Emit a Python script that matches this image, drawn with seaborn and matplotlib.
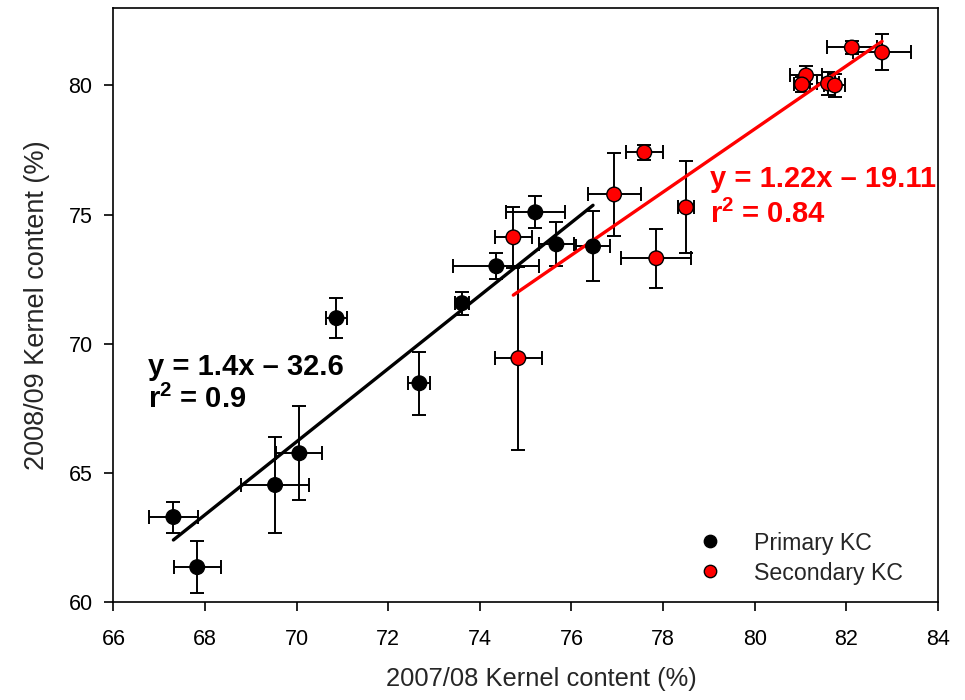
import numpy as np
import pandas as pd
import matplotlib
matplotlib.use("Agg")
import matplotlib.pyplot as plt
import seaborn as sns

# Primary KC
prim_x = [67.31, 67.83, 69.53, 70.06, 70.87, 72.68, 73.61, 74.36, 75.21, 75.67, 76.47]
prim_y = [63.29, 61.35, 64.53, 65.76, 70.99, 68.47, 71.57, 73.00, 75.09, 73.85, 73.77]
prim_xerr = [0.53, 0.51, 0.74, 0.50, 0.23, 0.24, 0.16, 0.94, 0.65, 0.39, 0.37]
prim_yerr = [0.60, 1.00, 1.84, 1.82, 0.78, 1.22, 0.44, 0.50, 0.62, 0.85, 1.35]

# Secondary KC
sec_x = [74.73, 74.84, 76.93, 77.59, 78.50, 77.85, 81.12, 81.03, 81.60, 81.75, 82.12, 82.78]
sec_y = [74.12, 69.44, 75.78, 77.41, 75.28, 73.31, 80.39, 80.04, 80.08, 80.00, 81.47, 81.28]
sec_xerr = [0.40, 0.51, 0.58, 0.40, 0.17, 0.76, 0.34, 0.18, 0.23, 0.23, 0.55, 0.64]
sec_yerr = [1.18, 3.55, 1.59, 0.29, 1.78, 1.14, 0.35, 0.29, 0.43, 0.43, 0.25, 0.70]

series_names = ["Primary KC", "Secondary KC"]
colors = {"Primary KC": "black", "Secondary KC": "red"}

eq_prim = ["y = 1.4x \u2013 32.6", r"r$^{\mathbf{2}}$ = 0.9"]
eq_sec = ["y = 1.22x \u2013 19.11", r"r$^{\mathbf{2}}$ = 0.84"]

df = pd.DataFrame({
    "x": prim_x + sec_x,
    "y": prim_y + sec_y,
    "xerr": prim_xerr + sec_xerr,
    "yerr": prim_yerr + sec_yerr,
    "group": [series_names[0]] * len(prim_x) + [series_names[1]] * len(sec_x),
})

sns.set_style("ticks")
plt.rcParams["font.family"] = ["Liberation Sans", "DejaVu Sans"]
plt.rcParams["mathtext.fontset"] = "custom"
plt.rcParams["mathtext.rm"] = "Liberation Sans"
plt.rcParams["mathtext.bf"] = "Liberation Sans:bold"

fig = plt.figure(figsize=(9.65, 7.0), dpi=100)
ax = fig.add_axes([0.1175, 0.14, 0.8545, 0.8486])

# error bars
ax.errorbar(df["x"], df["y"], xerr=df["xerr"], yerr=df["yerr"], fmt="none",
            ecolor="black", elinewidth=1.4, capsize=5, capthick=1.4, zorder=2)

# regression lines
for name in series_names:
    sub = df[df["group"] == name]
    sns.regplot(data=sub, x="x", y="y", scatter=False, ci=None, truncate=True,
                color=colors[name], line_kws={"linewidth": 2.4, "zorder": 3}, ax=ax)

# points
sns.scatterplot(data=df, x="x", y="y", hue="group", palette=colors,
                s=110, edgecolor="black", linewidth=1.0, zorder=4, ax=ax, legend=True)

ax.set_xlim(66, 84)
ax.set_ylim(60, 83)
ax.set_xticks(np.arange(66, 85, 2))
ax.set_yticks(np.arange(60, 81, 5))
ax.tick_params(axis="x", labelsize=15.5, length=6.5, width=1.2, direction="out",
               colors="black", pad=13)
ax.tick_params(axis="y", labelsize=15.5, length=6.5, width=1.2, direction="out",
               colors="black", pad=8.5)
for s in ax.spines.values():
    s.set_visible(True)
    s.set_linewidth(1.2)
    s.set_color("black")

ax.set_xlabel("2007/08 Kernel content (%)", fontsize=18.4, labelpad=12)
ax.set_ylabel("2008/09 Kernel content (%)", fontsize=19.5, labelpad=13)
ax.xaxis.label.set_x(0.519)

ax.text(66.76, 68.78, eq_prim[0], fontsize=21, fontweight="bold", color="black", va="baseline")
ax.text(66.76, 67.50, eq_prim[1], fontsize=21, fontweight="bold", color="black", va="baseline")
ax.text(79.02, 76.05, eq_sec[0], fontsize=21, fontweight="bold", color="red", va="baseline")
ax.text(79.02, 74.66, eq_sec[1], fontsize=21, fontweight="bold", color="red", va="baseline")

leg = ax.legend(loc="center left", frameon=False, fontsize=16.7, markerscale=0.85,
                handletextpad=1.2, bbox_to_anchor=(0.69, 0.074), labelspacing=0.3,
                borderpad=0, handlelength=1.4)
for h in leg.legend_handles:
    try:
        h.set_markeredgecolor("black")
    except AttributeError:
        h.set_edgecolor("black")

fig.savefig("out.png", dpi=100)
